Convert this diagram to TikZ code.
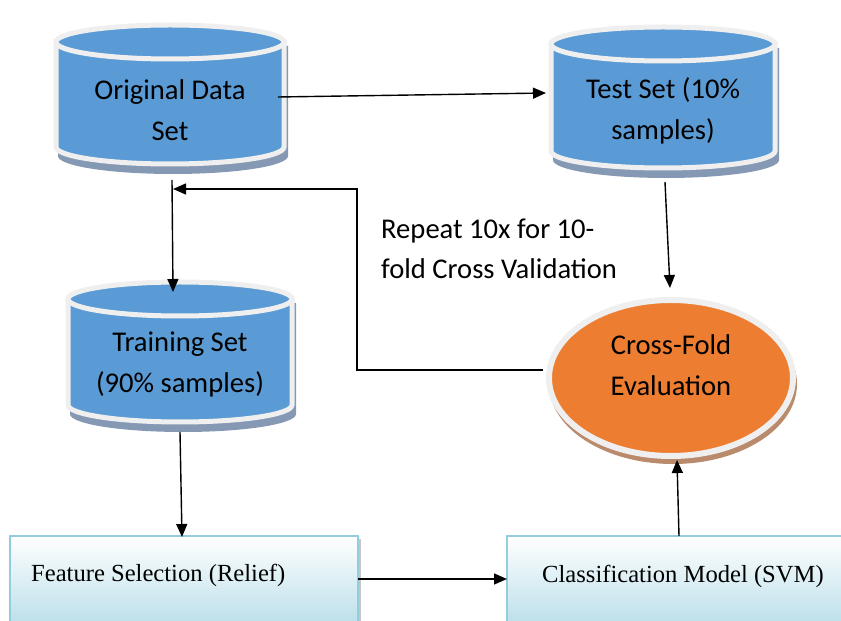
\documentclass[tikz,border=0pt]{standalone}
\usepackage{fontspec}
\setmainfont{Carlito}
\newfontfamily\serifbox{Liberation Serif}
\usetikzlibrary{arrows.meta,shadings}
\definecolor{cylblue}{HTML}{5B9BD5}
\definecolor{ringgray}{HTML}{EFEFEF}
\definecolor{cylshadow}{HTML}{8599B4}
\definecolor{evalorange}{HTML}{ED7D31}
\definecolor{evalshadow}{HTML}{B98A6C}
\definecolor{boxborder}{HTML}{93CDDD}
\definecolor{boxbottom}{HTML}{B6DDE8}
\newcommand\mycyl[5]{% cx, top, bot, rx, ry
  \fill[cylshadow] (#1-#4+2,#2-4) -- (#1-#4+2,#3-9) arc[start angle=180,end angle=360,x radius=#4+1,y radius=#5+1] -- (#1+#4+4,#2-4) -- cycle;
  \draw[ringgray,line width=5pt,fill=cylblue] (#1-#4,#2) -- (#1-#4,#3) arc[start angle=180,end angle=360,x radius=#4,y radius=#5] -- (#1+#4,#2) -- cycle;
  \draw[ringgray,line width=5pt,fill=cylblue] (#1,#2) ellipse[x radius=#4,y radius=#5];
}
\tikzset{
  x=1pt,y=1pt,
  cyltext/.style={font=\fontsize{28.6}{41}\selectfont,align=center,inner sep=0pt},
  boxtext/.style={font=\serifbox\fontsize{24.6}{28}\selectfont,anchor=base west,inner sep=0pt},
  conn/.style={line width=1.4pt,-{Triangle[length=13pt,width=11pt]}},
  flowbox/.style={draw=boxborder,line width=2pt,top color=white,bottom color=boxbottom},
}
\begin{document}
\begin{tikzpicture}
\useasboundingbox (0,0) rectangle (841,621);
% cylinders
\mycyl{170}{579}{474}{114}{17}
\mycyl{663}{577}{470}{112}{17}
\mycyl{180}{322}{216}{112}{17}
\node[cyltext] (orig) at (170,511) {Original Data\\Set};
\node[cyltext] (test) at (663,510) {Test Set (10\%\\samples)};
\node[cyltext] (train) at (180,257) {Training Set\\(90\% samples)};
% evaluation ellipse
\fill[evalshadow] (673,237) ellipse[x radius=124,y radius=80];
\draw[ringgray,line width=6pt,fill=evalorange] (671,243) ellipse[x radius=122,y radius=78];
\node[cyltext] (eval) at (671,256) {Cross-Fold\\Evaluation};
% boxes
\fill[gray!45] (13,-10) rectangle (361,82);
\fill[gray!45] (510,-10) rectangle (850,82);
\draw[flowbox] (10,-10) rectangle (358,85);
\draw[flowbox] (507,-10) rectangle (850,85);
\node[boxtext] (feat) at (31,39) {Feature Selection (Relief)};
\node[boxtext] (clf) at (542,38) {Classification Model (SVM)};
% note
\node[font=\fontsize{28.6}{40}\selectfont,align=left,anchor=north west,inner sep=0pt] (note) at (381,402) {Repeat 10x for 10-\\fold Cross Validation};
% connector endpoints
\coordinate (o2tS) at (278,524);
\coordinate (o2tE) at (546,528);
\coordinate (o2trS) at (172,441);
\coordinate (o2trE) at (173,329);
\coordinate (fbS) at (543,251);
\coordinate (fbC) at (357,432);
\coordinate (fbE) at (173,432);
\coordinate (t2eS) at (665,439);
\coordinate (t2eE) at (670,333);
\coordinate (tr2fS) at (180,189);
\coordinate (tr2fE) at (182,84);
\coordinate (f2cS) at (358,42);
\coordinate (f2cE) at (507,42);
\coordinate (c2eS) at (679,85);
\coordinate (c2eE) at (677,161);
\draw[conn] (o2tS) -- (o2tE);
\draw[conn] (o2trS) -- (o2trE);
\draw[conn] (fbS) -| (fbC) -- (fbE);
\draw[conn] (t2eS) -- (t2eE);
\draw[conn] (tr2fS) -- (tr2fE);
\draw[conn] (f2cS) -- (f2cE);
\draw[conn] (c2eS) -- (c2eE);
\end{tikzpicture}
\end{document}
